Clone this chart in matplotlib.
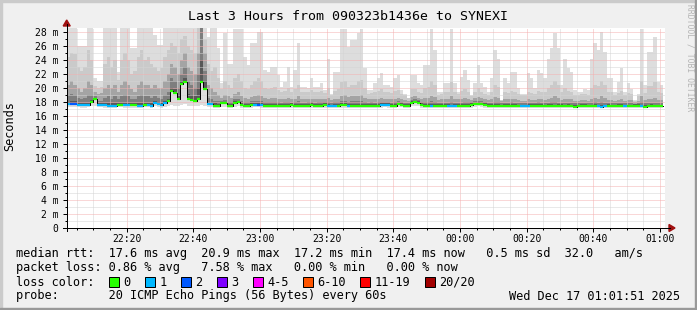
import numpy as np
import matplotlib
matplotlib.use('Agg')
import matplotlib.pyplot as plt
from matplotlib.patches import Rectangle, Polygon
from matplotlib.lines import Line2D
from matplotlib.ticker import MultipleLocator, FixedLocator, FuncFormatter

# ---- data: one value per 60 s step, 22:02 .. 01:00 (ms) ----
start_min = 2            # minutes after 22:00 of the first step
# top of the smoke (slowest of the 20 pings)
ping_max = [
    28.6, 28.6, 28.6, 26.0, 26.0, 26.0, 28.6, 28.6, 21.5, 21.0, 21.0, 28.6, 28.6, 28.6, 28.6,
    22.3, 28.6, 28.6, 28.6, 25.7, 25.7, 28.6, 28.6, 28.6, 28.6, 28.6, 27.6, 26.1, 26.1, 28.6,
    28.6, 28.6, 28.6, 28.6, 28.6, 28.6, 28.6, 28.6, 28.6, 28.6, 28.6, 28.6, 27.3, 28.6, 28.6,
    25.7, 20.7, 27.8, 23.5, 23.5, 28.5, 28.5, 28.5, 24.5, 23.3, 26.4, 26.4, 28.0, 28.0, 22.6,
    22.3, 23.0, 23.0, 21.9, 20.2, 20.9, 23.0, 20.2, 22.6, 26.4, 20.2, 20.2, 20.0, 21.4, 20.2,
    20.2, 20.7, 19.7, 24.2, 19.2, 22.3, 22.3, 28.5, 28.5, 25.9, 26.9, 26.9, 27.8, 28.5, 22.9,
    19.7, 19.7, 20.7, 21.5, 22.1, 20.4, 20.4, 20.2, 21.4, 21.9, 19.7, 19.2, 18.5, 21.9, 21.9,
    20.7, 20.5, 23.3, 23.3, 28.5, 25.4, 19.5, 19.5, 20.7, 20.7, 28.5, 20.7, 19.5, 21.6, 22.6,
    21.1, 19.0, 20.7, 23.3, 20.7, 20.2, 19.5, 21.4, 25.4, 24.2, 18.3, 21.4, 20.7, 22.3, 22.3,
    20.0, 19.2, 19.2, 22.1, 21.4, 20.0, 22.6, 22.1, 21.4, 24.2, 25.7, 27.8, 25.7, 20.4, 24.2,
    22.8, 22.3, 19.7, 19.5, 19.5, 19.9, 19.7, 24.2, 26.4, 25.4, 28.0, 25.2, 21.4, 21.4, 19.5,
    20.9, 22.8, 19.5, 20.7, 19.9, 18.3, 19.2, 28.5, 20.4, 25.2, 25.2, 27.3, 20.9, 20.4,
]
# 19th of 20 sorted pings
ping_p19 = [
    24.5, 25.0, 24.8, 23.0, 22.5, 23.0, 25.5, 24.0, 20.3, 20.0, 20.2, 23.5, 24.5, 23.0, 24.0,
    21.2, 24.0, 25.0, 24.0, 22.0, 22.5, 24.5, 25.5, 24.0, 24.5, 23.5, 23.0, 22.5, 22.8, 24.5,
    25.5, 26.5, 26.0, 25.0, 27.0, 27.5, 26.0, 25.5, 25.0, 28.6, 28.6, 27.0, 23.5, 22.5, 23.0,
    21.5, 19.8, 21.0, 20.5, 20.0, 21.5, 22.0, 21.0, 20.0, 19.8, 20.5, 21.0, 21.5, 21.0, 20.0,
    19.8, 20.0, 20.2, 19.7, 19.5, 19.6, 20.0, 19.5, 19.8, 20.5, 19.5, 19.4, 19.5, 19.7, 19.5,
    19.5, 19.6, 19.3, 20.0, 19.0, 19.6, 19.8, 20.8, 21.0, 20.2, 20.5, 20.5, 21.0, 21.2, 20.0,
    19.2, 19.3, 19.5, 19.6, 19.8, 19.4, 19.5, 19.3, 19.6, 19.7, 19.2, 19.0, 18.6, 19.8, 19.8,
    19.5, 19.3, 20.0, 20.2, 21.0, 20.5, 19.0, 19.2, 19.4, 19.5, 20.8, 19.5, 19.2, 19.6, 19.8,
    19.5, 18.9, 19.5, 20.0, 19.5, 19.2, 19.0, 19.4, 20.5, 20.2, 18.3, 19.4, 19.3, 19.6, 19.5,
    19.2, 19.0, 19.0, 19.5, 19.3, 19.2, 19.6, 19.5, 19.4, 20.0, 20.5, 21.0, 20.5, 19.4, 20.0,
    19.6, 19.5, 19.0, 19.0, 19.1, 19.2, 19.0, 20.0, 20.5, 20.3, 21.0, 20.5, 19.5, 19.4, 19.0,
    19.3, 19.6, 19.0, 19.3, 19.2, 18.2, 18.9, 21.0, 19.3, 20.3, 20.3, 20.8, 19.5, 19.3,
]
# 17th of 20
ping_p17 = [
    20.5, 21.0, 20.5, 20.0, 19.5, 20.0, 21.0, 20.5, 19.5, 19.2, 19.3, 20.0, 20.5, 20.0, 20.5,
    19.5, 20.5, 21.0, 20.5, 19.8, 19.5, 20.5, 21.0, 20.5, 20.5, 20.0, 20.5, 20.0, 20.0, 21.0,
    22.0, 23.5, 23.0, 22.0, 24.0, 25.0, 23.0, 22.5, 22.0, 25.0, 28.6, 25.0, 20.5, 20.0, 19.5,
    19.0, 18.6, 19.0, 18.8, 18.6, 19.2, 19.4, 18.9, 18.6, 18.5, 18.7, 18.9, 19.0, 18.8, 18.6,
    18.5, 18.6, 18.6, 18.5, 18.4, 18.5, 18.6, 18.4, 18.5, 18.8, 18.4, 18.4, 18.5, 18.5, 18.4,
    18.4, 18.5, 18.4, 18.6, 18.3, 18.5, 18.5, 18.9, 19.0, 18.7, 18.8, 18.8, 18.9, 19.0, 18.6,
    18.4, 18.4, 18.5, 18.5, 18.6, 18.5, 18.5, 18.4, 18.5, 18.6, 18.4, 18.3, 18.2, 18.7, 18.8,
    18.6, 18.4, 18.6, 18.6, 18.9, 18.7, 18.3, 18.4, 18.4, 18.5, 18.8, 18.4, 18.4, 18.5, 18.6,
    18.5, 18.3, 18.6, 18.7, 18.6, 18.4, 18.3, 18.4, 18.7, 18.6, 18.1, 18.4, 18.4, 18.5, 18.4,
    18.3, 18.2, 18.2, 18.4, 18.3, 18.3, 18.4, 18.4, 18.3, 18.5, 18.6, 18.8, 18.6, 18.3, 18.5,
    18.4, 18.4, 18.2, 18.2, 18.3, 18.3, 18.2, 18.5, 18.6, 18.5, 18.8, 18.6, 18.3, 18.3, 18.2,
    18.3, 18.4, 18.2, 18.3, 18.3, 18.0, 18.2, 18.8, 18.3, 18.5, 18.5, 18.6, 18.3, 18.3,
]
# 15th of 20
ping_p15 = [
    19.0, 19.2, 19.0, 18.6, 18.5, 18.6, 19.0, 19.0, 18.8, 18.2, 18.2, 18.6, 18.8, 18.5, 18.8,
    18.4, 18.8, 19.0, 18.8, 18.5, 18.4, 18.8, 19.0, 18.8, 18.8, 18.6, 18.8, 18.6, 18.5, 19.0,
    19.5, 21.5, 21.0, 20.0, 22.0, 23.0, 21.0, 20.5, 20.0, 22.0, 28.6, 22.5, 18.6, 18.4, 18.2,
    18.1, 18.2, 18.3, 18.0, 18.0, 18.4, 18.5, 18.1, 18.0, 18.0, 18.1, 18.2, 18.2, 18.1, 18.0,
    18.0, 18.0, 18.0, 18.0, 17.9, 18.0, 18.0, 17.9, 18.0, 18.1, 17.9, 17.9, 18.0, 18.0, 17.9,
    18.0, 18.0, 18.0, 18.0, 17.9, 18.0, 18.0, 18.2, 18.2, 18.0, 18.1, 18.1, 18.1, 18.2, 18.0,
    17.9, 18.0, 17.9, 18.0, 18.0, 18.0, 18.0, 17.9, 18.0, 18.2, 18.0, 17.9, 17.8, 18.3, 18.4,
    18.3, 18.0, 18.0, 18.0, 18.1, 18.0, 17.9, 17.9, 17.9, 17.9, 18.0, 17.9, 17.9, 17.9, 18.0,
    18.0, 18.0, 18.1, 18.2, 18.1, 18.0, 17.9, 17.9, 18.0, 18.0, 17.8, 17.9, 17.9, 18.0, 17.9,
    17.9, 17.8, 17.8, 17.9, 17.9, 17.9, 18.0, 17.9, 17.8, 17.9, 18.0, 18.0, 17.9, 17.9, 17.9,
    17.9, 17.8, 17.8, 17.8, 17.9, 17.9, 17.8, 17.9, 18.0, 17.9, 18.0, 17.9, 17.9, 17.8, 17.8,
    17.9, 17.9, 17.8, 17.8, 17.8, 17.7, 17.8, 18.0, 17.8, 17.9, 17.9, 17.9, 17.8, 17.8,
]
# 13th of 20
ping_p13 = [
    18.0, 18.1, 18.1, 17.9, 17.9, 17.9, 17.9, 18.3, 18.6, 17.9, 17.9, 17.9, 17.8, 17.8, 17.8,
    17.9, 17.9, 17.9, 17.9, 17.8, 17.8, 17.8, 17.8, 17.9, 17.9, 17.8, 18.1, 18.0, 17.8, 18.1,
    18.5, 20.0, 19.8, 19.0, 21.0, 21.5, 19.2, 19.0, 18.8, 20.0, 24.0, 21.0, 17.9, 17.9, 17.8,
    17.7, 18.0, 18.0, 17.7, 17.7, 18.1, 18.2, 17.8, 17.7, 17.7, 17.8, 17.8, 17.8, 17.8, 17.7,
    17.7, 17.7, 17.7, 17.7, 17.7, 17.7, 17.7, 17.8, 17.7, 17.7, 17.7, 17.7, 17.7, 17.8, 17.7,
    17.7, 17.7, 17.8, 17.7, 17.6, 17.7, 17.7, 17.8, 17.8, 17.7, 17.7, 17.7, 17.7, 17.7, 17.7,
    17.7, 17.7, 17.7, 17.7, 17.8, 17.8, 17.8, 17.7, 17.7, 17.9, 17.8, 17.7, 17.7, 18.1, 18.2,
    18.1, 17.8, 17.7, 17.7, 17.7, 17.7, 17.7, 17.7, 17.7, 17.7, 17.6, 17.7, 17.7, 17.7, 17.7,
    17.7, 17.8, 17.9, 18.0, 17.9, 17.8, 17.7, 17.7, 17.7, 17.7, 17.6, 17.7, 17.7, 17.7, 17.7,
    17.6, 17.6, 17.6, 17.7, 17.7, 17.7, 17.7, 17.7, 17.6, 17.7, 17.7, 17.6, 17.7, 17.7, 17.6,
    17.7, 17.6, 17.6, 17.6, 17.7, 17.7, 17.6, 17.6, 17.7, 17.6, 17.6, 17.6, 17.7, 17.6, 17.6,
    17.7, 17.7, 17.6, 17.6, 17.6, 17.7, 17.7, 17.6, 17.6, 17.6, 17.7, 17.6, 17.6, 17.6,
]
# fastest ping
ping_min = [
    17.3, 17.3, 17.3, 17.3, 17.2, 17.2, 17.3, 17.4, 17.4, 17.3, 17.3, 17.2, 17.2, 17.2, 17.2,
    17.3, 17.3, 17.2, 17.2, 17.2, 17.2, 17.2, 17.2, 17.3, 17.3, 17.2, 17.4, 17.3, 17.2, 17.3,
    17.4, 17.6, 17.5, 17.4, 17.6, 17.7, 17.5, 17.5, 17.4, 17.5, 17.6, 17.5, 17.3, 17.3, 17.2,
    17.2, 17.3, 17.3, 17.2, 17.2, 17.3, 17.4, 17.2, 17.2, 17.2, 17.2, 17.3, 17.3, 17.2, 17.2,
    17.2, 17.2, 17.2, 17.2, 17.2, 17.2, 17.2, 17.2, 17.2, 17.2, 17.2, 17.2, 17.2, 17.2, 17.2,
    17.2, 17.2, 17.2, 17.2, 17.1, 17.2, 17.2, 17.2, 17.2, 17.2, 17.2, 17.2, 17.2, 17.2, 17.2,
    17.2, 17.2, 17.2, 17.2, 17.2, 17.3, 17.2, 17.2, 17.2, 17.3, 17.3, 17.2, 17.2, 17.4, 17.5,
    17.4, 17.2, 17.2, 17.2, 17.2, 17.2, 17.2, 17.2, 17.2, 17.2, 17.1, 17.2, 17.2, 17.2, 17.2,
    17.2, 17.2, 17.3, 17.4, 17.3, 17.2, 17.2, 17.2, 17.2, 17.2, 17.2, 17.2, 17.2, 17.2, 17.2,
    17.2, 17.1, 17.1, 17.2, 17.2, 17.2, 17.2, 17.2, 17.1, 17.2, 17.2, 17.1, 17.2, 17.2, 17.1,
    17.2, 17.1, 17.1, 17.1, 17.2, 17.2, 17.1, 17.1, 17.2, 17.1, 17.1, 17.1, 17.2, 17.1, 17.1,
    17.2, 17.2, 17.1, 17.1, 17.1, 17.2, 17.2, 17.1, 17.1, 17.1, 17.2, 17.1, 17.1, 17.1,
]
median_rtt = [
    17.70, 17.75, 17.75, 17.60, 17.60, 17.60, 17.60, 18.05, 18.40, 17.60, 17.60, 17.60, 17.50, 17.50, 17.50,
    17.60, 17.60, 17.55, 17.55, 17.55, 17.55, 17.50, 17.50, 17.60, 17.60, 17.50, 17.90, 17.70, 17.55, 17.90,
    18.10, 19.55, 19.30, 18.40, 20.60, 20.85, 18.40, 18.35, 18.20, 18.45, 20.85, 19.90, 17.65, 17.65, 17.50,
    17.45, 17.80, 17.85, 17.50, 17.45, 17.90, 18.00, 17.55, 17.45, 17.50, 17.55, 17.60, 17.60, 17.55, 17.50,
    17.45, 17.50, 17.45, 17.50, 17.50, 17.45, 17.50, 17.55, 17.45, 17.50, 17.45, 17.50, 17.50, 17.55, 17.45,
    17.50, 17.50, 17.55, 17.45, 17.40, 17.45, 17.50, 17.55, 17.55, 17.45, 17.45, 17.50, 17.45, 17.45, 17.50,
    17.45, 17.50, 17.45, 17.45, 17.55, 17.60, 17.55, 17.50, 17.50, 17.70, 17.60, 17.50, 17.45, 17.85, 17.95,
    17.90, 17.55, 17.45, 17.50, 17.45, 17.45, 17.50, 17.45, 17.45, 17.45, 17.40, 17.45, 17.50, 17.45, 17.50,
    17.50, 17.55, 17.70, 17.75, 17.70, 17.55, 17.50, 17.45, 17.50, 17.45, 17.45, 17.50, 17.45, 17.50, 17.45,
    17.45, 17.40, 17.40, 17.45, 17.45, 17.45, 17.50, 17.45, 17.40, 17.45, 17.45, 17.40, 17.45, 17.50, 17.40,
    17.45, 17.40, 17.35, 17.40, 17.45, 17.45, 17.40, 17.40, 17.45, 17.40, 17.35, 17.40, 17.45, 17.40, 17.40,
    17.45, 17.45, 17.40, 17.40, 17.40, 17.45, 17.45, 17.40, 17.35, 17.40, 17.45, 17.40, 17.40, 17.40,
]
# lost pings (of 20) per step
lost = [
    1, 2, 2, 1, 1, 1, 1, 0, 0, 1, 1, 1, 1, 1, 1,
    0, 0, 1, 1, 0, 0, 1, 1, 0, 1, 1, 1, 1, 1, 1,
    0, 0, 0, 0, 0, 0, 0, 0, 0, 0, 0, 0, 1, 1, 0,
    0, 0, 0, 0, 0, 0, 0, 0, 0, 0, 0, 1, 2, 1, 0,
    0, 0, 0, 0, 0, 0, 0, 0, 0, 0, 0, 0, 0, 0, 0,
    0, 0, 0, 1, 1, 1, 0, 0, 0, 1, 0, 0, 0, 0, 0,
    0, 0, 0, 0, 1, 1, 1, 0, 0, 0, 0, 0, 0, 0, 0,
    0, 0, 0, 0, 1, 0, 0, 0, 0, 1, 1, 1, 0, 0, 0,
    0, 0, 0, 0, 0, 0, 0, 0, 0, 0, 0, 0, 0, 0, 0,
    0, 1, 1, 1, 0, 0, 0, 0, 0, 0, 0, 0, 0, 0, 0,
    0, 0, 0, 0, 0, 0, 0, 0, 0, 1, 1, 1, 0, 0, 0,
    0, 0, 1, 0, 0, 0, 0, 1, 0, 0, 0, 0, 0, 0,
]

loss_labels = ['0', '1', '2', '3', '4-5', '6-10', '11-19', '20/20']
loss_colors = ['#26ff00', '#00b8ff', '#0059ff', '#7e00ff', '#ff00ff', '#ff5500', '#ff0000', '#a10000']
loss_upper = [0, 1, 2, 3, 5, 10, 19, 20]

xtick_min = [20, 40, 60, 80, 100, 120, 140, 160, 180]
xtick_lab = ['22:20', '22:40', '23:00', '23:20', '23:40', '00:00', '00:20', '00:40', '01:00']
ytick_ms = list(range(0, 29, 2))

title = 'Last 3 Hours from 090323b1436e to SYNEXI'
legend_lines = [
    'median rtt:  17.6 ms avg  20.9 ms max  17.2 ms min  17.4 ms now   0.5 ms sd  32.0   am/s',
    'packet loss: 0.86 % avg   7.58 % max   0.00 % min   0.00 % now',
    'loss color:',
    'probe:       20 ICMP Echo Pings (56 Bytes) every 60s',
]
stamp = 'Wed Dec 17 01:01:51 2025'

# ---- figure ----
W, H = 697, 310
MONO = 'DejaVu Sans Mono'
fig = plt.figure(figsize=(W / 100, H / 100), dpi=100)
fig.patch.set_facecolor('#f0f0f0')

def fx(px):
    return px / W

def fy(py):
    return 1 - py / H

X0, X1, Y0, Y1 = 66.7, 665.0, 228.0, 28.0
PX_PER_MIN = 10 / 3.0
ax = fig.add_axes([fx(X0), fy(Y0), (X1 - X0) / W, (Y0 - Y1) / H])
ax.set_facecolor('white')
ax.set_xlim(start_min, start_min + (X1 - X0) / PX_PER_MIN)
ax.set_ylim(0, (Y0 - Y1) / 7.0)
for s in ax.spines.values():
    s.set_visible(False)

n = len(median_rtt)
edges = np.arange(start_min, start_min + n + 1)

def stepv(v):
    v = np.asarray(v, dtype=float)
    return np.append(v, v[-1])

med = stepv(median_rtt)
bands = [(ping_min, ping_max, '#dddddd'),
         (median_rtt, ping_p19, '#cacaca'),
         (median_rtt, ping_p17, '#a4a4a4'),
         (median_rtt, ping_p15, '#7e7e7e'),
         (median_rtt, ping_p13, '#585858')]
for lo, hi, c in bands:
    ax.fill_between(edges, stepv(lo), stepv(hi), step='post', color=c, lw=0, zorder=1)

# median: black connectors + loss coloured steps
ax.plot(edges, med, drawstyle='steps-post', color='black', lw=0.72, zorder=3)
seg_cols = []
for l in lost:
    idx = next(i for i, u in enumerate(loss_upper) if l <= u)
    seg_cols.append(loss_colors[idx])
ax.hlines(median_rtt, edges[:-1], edges[1:], colors=seg_cols, lw=1.6, zorder=4)

# grid + ticks
ax.xaxis.set_major_locator(FixedLocator(xtick_min))
ax.xaxis.set_minor_locator(MultipleLocator(5))
ax.yaxis.set_major_locator(FixedLocator(ytick_ms))
ax.yaxis.set_minor_locator(FixedLocator([v + 1 for v in ytick_ms]))
ax.set_xticklabels(xtick_lab)
ax.yaxis.set_major_formatter(FuncFormatter(lambda v, p: '0' if v == 0 else '%d m' % v))
ax.grid(which='major', color='#f4b0b0', lw=0.72, ls=(0, (1, 1)), zorder=2)
ax.grid(which='minor', color='#d4d4d4', lw=0.72, ls=(0, (1, 1)), zorder=2)
ax.set_axisbelow(False)
ax.tick_params(which='both', direction='out', length=2, width=0.72, color='black',
               labelsize=7, labelfontfamily=MONO)
ax.tick_params(axis='x', which='major', length=3, pad=1)
ax.tick_params(axis='y', which='major', length=3, pad=3)
ax.tick_params(axis='x', which='minor', length=1.5)
ax.tick_params(axis='y', which='minor', length=1.5)

# axes lines with arrows
fig.add_artist(Line2D([fx(X0), fx(X0)], [fy(231), fy(24)], color='black', lw=0.72))
fig.add_artist(Line2D([fx(63), fx(670)], [fy(Y0), fy(Y0)], color='black', lw=0.72))
arrow = '#a01010'
fig.add_artist(Polygon([(fx(X0 - 3.5), fy(26)), (fx(X0 + 3.5), fy(26)), (fx(X0), fy(20))],
                       closed=True, color=arrow, transform=fig.transFigure))
fig.add_artist(Polygon([(fx(669), fy(Y0 - 3.5)), (fx(669), fy(Y0 + 3.5)), (fx(675), fy(Y0))],
                       closed=True, color=arrow, transform=fig.transFigure))

# texts
fig.text(fx(347.5), fy(17), title, ha='center', va='center', family=MONO, size=9.5)
fig.text(fx(10), fy(126), 'Seconds', ha='center', va='center', rotation=90, family=MONO, size=8.6)
fig.text(fx(690), fy(58), 'RRDTOOL / TOBI OETIKER', ha='center', va='center', rotation=270,
         family=MONO, size=5.8, color='#b4b4b4')

CW = 7.17
for i, line in enumerate(legend_lines):
    fig.text(fx(16), fy(254 + 14 * i), line, ha='left', va='center', family=MONO, size=8.6)
fig.text(fx(680), fy(296), stamp, ha='right', va='center', family=MONO, size=8.6)

c = 13
for lab, col in zip(loss_labels, loss_colors):
    bx = 16 + c * CW
    fig.add_artist(Rectangle((fx(bx), fy(287)), 10 / W, 10 / H, facecolor=col,
                             edgecolor='black', lw=0.72, transform=fig.transFigure))
    fig.text(fx(16 + (c + 2) * CW), fy(282), lab, ha='left', va='center', family=MONO, size=8.6)
    c += 2 + len(lab) + 2

# frame shading
fig.add_artist(Rectangle((0, 0), 2 / W, 1, color='#cbcbcb', transform=fig.transFigure))
fig.add_artist(Rectangle((0, 1 - 2 / H), 1, 2 / H, color='#cbcbcb', transform=fig.transFigure))
fig.add_artist(Rectangle((1 - 2 / W, 0), 2 / W, 1, color='#999999', transform=fig.transFigure))
fig.add_artist(Rectangle((0, 0), 1, 2 / H, color='#999999', transform=fig.transFigure))

fig.savefig('out.png', dpi=100, facecolor=fig.get_facecolor())
